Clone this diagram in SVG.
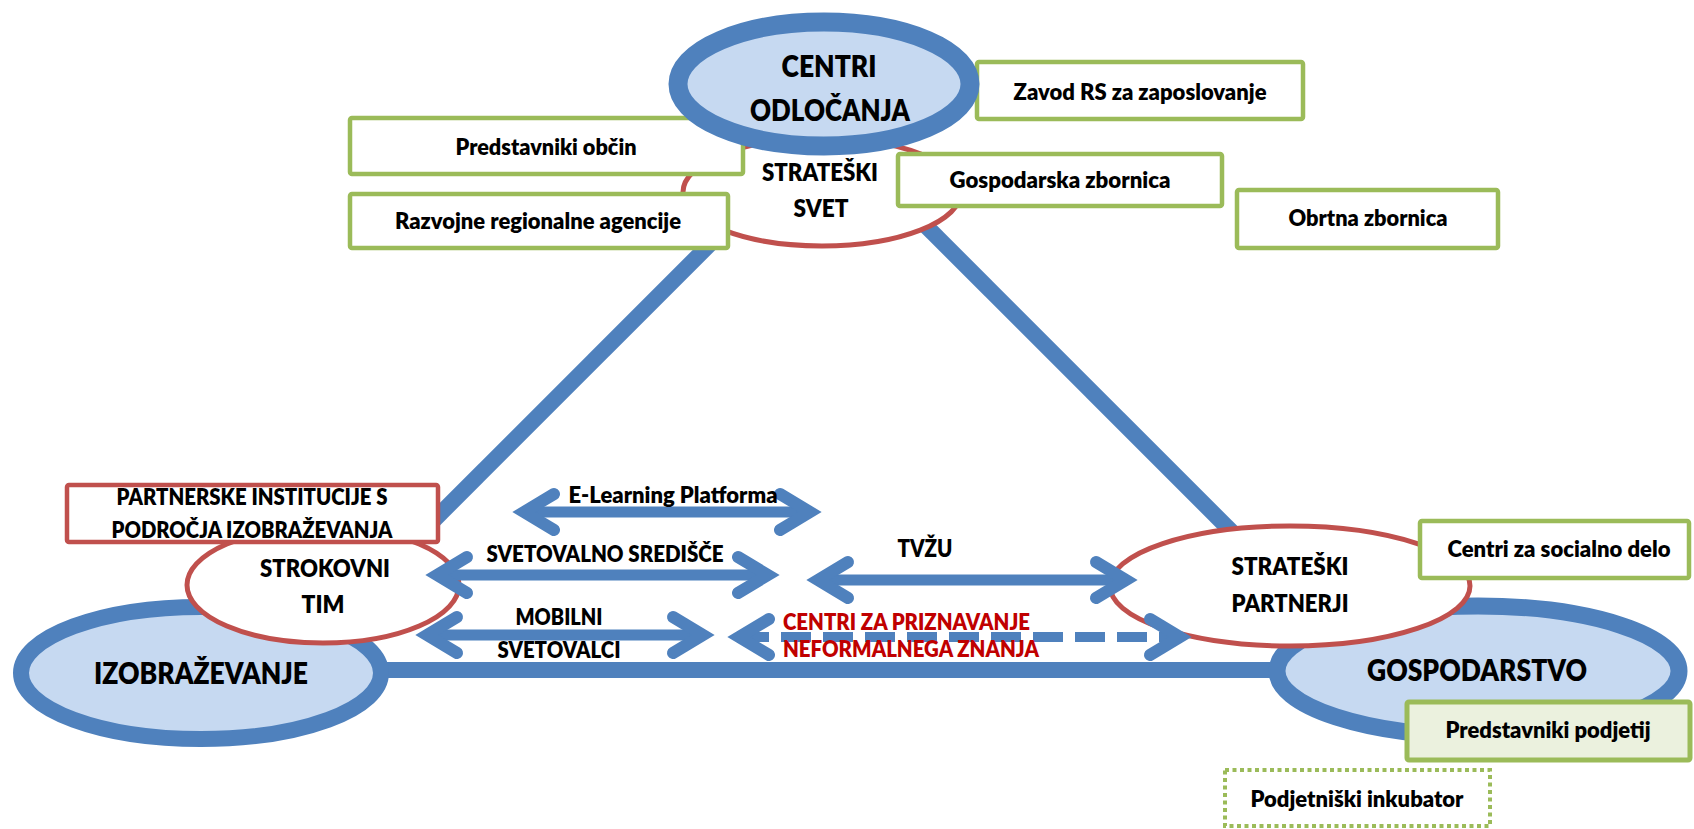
<svg xmlns="http://www.w3.org/2000/svg" width="1694" height="829" viewBox="0 0 1694 829">
<style>
  .tri { stroke: #4f81bd; stroke-width: 16; fill: none; stroke-linecap: butt; }
  .big { fill: #c6d9f1; stroke: #4f81bd; }
  .red { fill: #ffffff; stroke: #c0504d; stroke-width: 5; }
  .gbox { fill: #ffffff; stroke: #9bbb59; stroke-width: 4.5; }
  .gbox2 { fill: #ebf1de; stroke: #9bbb59; stroke-width: 5; }
  .dbox { fill: #ffffff; stroke: #9bbb59; stroke-width: 4; stroke-dasharray: 4 3.5; }
  .rbox { fill: #ffffff; stroke: #c0504d; stroke-width: 4.5; }
  .arr { stroke: #4f81bd; stroke-width: 11; fill: none; }
  .dash { stroke: #4f81bd; stroke-width: 10; fill: none; stroke-dasharray: 30 12; }
  .head { stroke: #4f81bd; stroke-width: 12; fill: none; stroke-linecap: round; stroke-linejoin: miter; }
  text { font-family: Lato, "Open Sans", "DejaVu Sans", sans-serif; font-weight: 800; fill: #000; text-anchor: middle; }
  .s { font-size: 22px; }
  .m { font-size: 24px; }
  .l { font-size: 29.5px; }
  .rt { fill: #c00000; text-anchor: start; font-size: 22px; }
</style>
<defs>
  <marker id="chev" markerUnits="userSpaceOnUse" orient="auto-start-reverse" refX="0" refY="0" markerWidth="80" markerHeight="80" viewBox="-40 -40 80 80" overflow="visible">
    <path class="head" d="M -30 -18 L 0 0 L -30 18"/>
  </marker>
</defs>
<rect x="0" y="0" width="1694" height="829" fill="#ffffff"/>

<g id="connectors">
  <line class="tri" x1="760" y1="194" x2="420" y2="534"/>
  <line class="tri" x1="890" y1="190" x2="1250" y2="550"/>
  <line class="tri" x1="380" y1="670" x2="1280" y2="670"/>
</g>

<g id="izobrazevanje">
  <ellipse class="big" cx="201" cy="673" rx="180" ry="66" stroke-width="16"/>
  <text class="l" x="201" y="684" textLength="214" lengthAdjust="spacingAndGlyphs">IZOBRAŽEVANJE</text>
</g>
<g id="gospodarstvo">
  <ellipse class="big" cx="1478" cy="671" rx="201" ry="65" stroke-width="17"/>
  <text class="l" x="1477" y="681" textLength="220" lengthAdjust="spacingAndGlyphs">GOSPODARSTVO</text>
</g>

<g id="strateski-svet">
  <ellipse class="red" cx="822" cy="192" rx="139" ry="54"/>
  <text class="m" x="820" y="181" textLength="116" lengthAdjust="spacingAndGlyphs">STRATEŠKI</text>
  <text class="m" x="821" y="217" textLength="55" lengthAdjust="spacingAndGlyphs">SVET</text>
</g>
<g id="strokovni-tim">
  <ellipse class="red" cx="323" cy="585" rx="136" ry="58"/>
  <text class="m" x="325" y="577" textLength="130" lengthAdjust="spacingAndGlyphs">STROKOVNI</text>
  <text class="m" x="323" y="613" textLength="43" lengthAdjust="spacingAndGlyphs">TIM</text>
</g>
<g id="strateski-partnerji">
  <ellipse class="red" cx="1290" cy="586" rx="180" ry="60"/>
  <text class="m" x="1290" y="575" textLength="117" lengthAdjust="spacingAndGlyphs">STRATEŠKI</text>
  <text class="m" x="1290" y="612" textLength="117" lengthAdjust="spacingAndGlyphs">PARTNERJI</text>
</g>

<g id="predstavniki-obcin">
  <rect class="gbox" x="350" y="118" width="393" height="56" rx="2"/>
  <text class="s" x="546" y="155" textLength="181" lengthAdjust="spacingAndGlyphs">Predstavniki občin</text>
</g>
<g id="razvojne-agencije">
  <rect class="gbox" x="350" y="194" width="378" height="54" rx="2"/>
  <text class="s" x="538" y="229" textLength="286" lengthAdjust="spacingAndGlyphs">Razvojne regionalne agencije</text>
</g>
<g id="gospodarska-zbornica">
  <rect class="gbox" x="898" y="154" width="324" height="52" rx="2"/>
  <text class="s" x="1060" y="188" textLength="221" lengthAdjust="spacingAndGlyphs">Gospodarska zbornica</text>
</g>
<g id="obrtna-zbornica">
  <rect class="gbox" x="1237" y="190" width="261" height="58" rx="2"/>
  <text class="s" x="1368" y="226" textLength="159" lengthAdjust="spacingAndGlyphs">Obrtna zbornica</text>
</g>
<g id="partnerske-institucije">
  <rect class="rbox" x="67" y="485" width="371" height="57" rx="2"/>
  <text class="s" x="252" y="505" textLength="271" lengthAdjust="spacingAndGlyphs">PARTNERSKE INSTITUCIJE S</text>
  <text class="s" x="252" y="538" textLength="281" lengthAdjust="spacingAndGlyphs">PODROČJA IZOBRAŽEVANJA</text>
</g>
<g id="centri-socialno-delo">
  <rect class="gbox" x="1420" y="521" width="269" height="57" rx="2"/>
  <text class="s" x="1559" y="557" textLength="223" lengthAdjust="spacingAndGlyphs">Centri za socialno delo</text>
</g>
<g id="predstavniki-podjetij">
  <rect class="gbox2" x="1407" y="702" width="283" height="58" rx="2"/>
  <text class="s" x="1548" y="738" textLength="205" lengthAdjust="spacingAndGlyphs">Predstavniki podjetij</text>
</g>
<g id="podjetniski-inkubator">
  <rect class="dbox" x="1225" y="770" width="265" height="56"/>
  <text class="s" x="1357" y="807" textLength="213" lengthAdjust="spacingAndGlyphs">Podjetniški inkubator</text>
</g>
<g id="zavod-rs">
  <rect class="gbox" x="977" y="62" width="326" height="57" rx="2"/>
  <text class="s" x="1140" y="100" textLength="253" lengthAdjust="spacingAndGlyphs">Zavod RS za zaposlovanje</text>
</g>
<g id="centri-odlocanja">
  <ellipse class="big" cx="824" cy="84" rx="146" ry="62" stroke-width="19"/>
  <text class="l" x="829" y="77" textLength="95" lengthAdjust="spacingAndGlyphs">CENTRI</text>
  <text class="l" x="830" y="121" textLength="160" lengthAdjust="spacingAndGlyphs">ODLOČANJA</text>
</g>

<g id="arrow-connectors">
  <line class="arr" x1="524" y1="512" x2="810" y2="512" marker-start="url(#chev)" marker-end="url(#chev)"/>
  <line class="arr" x1="437" y1="575" x2="768" y2="575" marker-start="url(#chev)" marker-end="url(#chev)"/>
  <line class="arr" x1="818" y1="580" x2="1126" y2="580" marker-start="url(#chev)" marker-end="url(#chev)"/>
  <line class="arr" x1="427" y1="635" x2="703" y2="635" marker-start="url(#chev)" marker-end="url(#chev)"/>
  <line class="dash" x1="739" y1="637" x2="1180" y2="637" marker-start="url(#chev)" marker-end="url(#chev)"/>
  <text class="s" x="673" y="503" textLength="209" lengthAdjust="spacingAndGlyphs">E-Learning Platforma</text>
  <text class="s" x="605" y="562" textLength="237" lengthAdjust="spacingAndGlyphs">SVETOVALNO SREDIŠČE</text>
  <text class="m" x="925" y="557" textLength="55" lengthAdjust="spacingAndGlyphs">TVŽU</text>
  <text class="s" x="559" y="625" textLength="87" lengthAdjust="spacingAndGlyphs">MOBILNI</text>
  <text class="s" x="559" y="658" textLength="123" lengthAdjust="spacingAndGlyphs">SVETOVALCI</text>
  <text class="rt" x="783" y="630" textLength="247" lengthAdjust="spacingAndGlyphs">CENTRI ZA PRIZNAVANJE</text>
  <text class="rt" x="783" y="657" textLength="256" lengthAdjust="spacingAndGlyphs">NEFORMALNEGA ZNANJA</text>
</g>
</svg>
